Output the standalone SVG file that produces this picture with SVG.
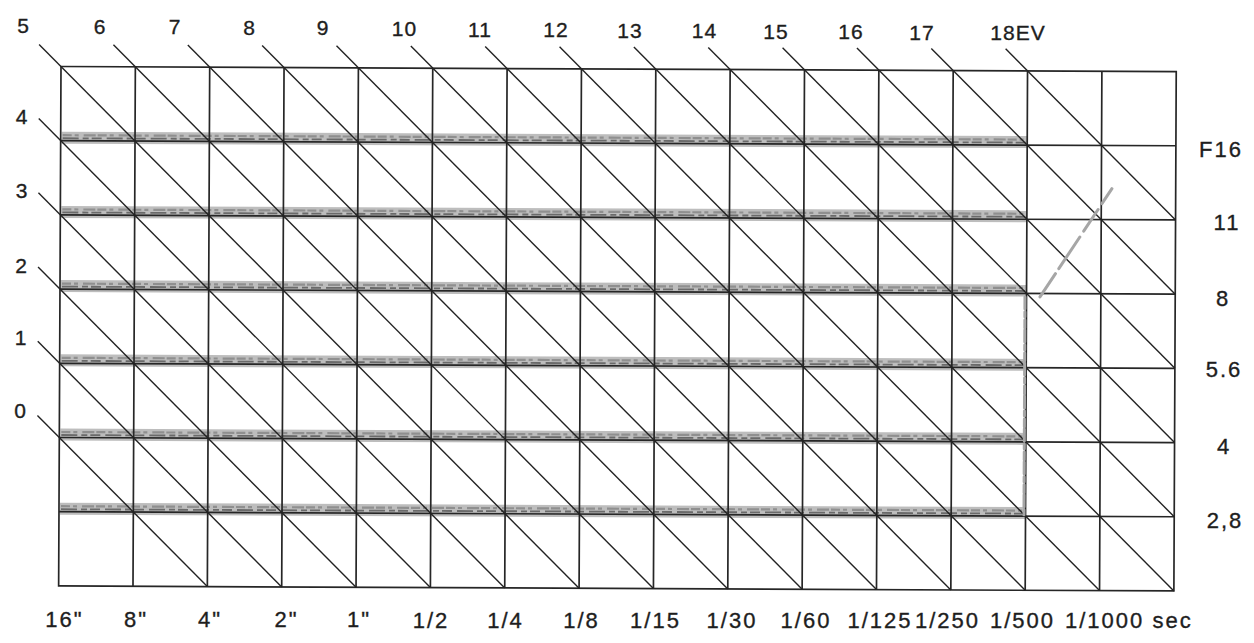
<svg xmlns="http://www.w3.org/2000/svg" width="1254" height="643" viewBox="0 0 1254 643">
<style>
.grid{fill:none;stroke:#262626;stroke-width:1.7}
.diag{fill:none;stroke:#222;stroke-width:1.4}
.band{fill:#bdbdbd}
.bl1{fill:none;stroke:#8f8f8f;stroke-width:2.2;stroke-dasharray:9 3 4 5 12 2}
.bl2{fill:none;stroke:#6a6a6a;stroke-width:1.8;stroke-dasharray:16 4 6 3 10 5}
.lbl{font-family:"Liberation Sans",Arial,Helvetica,sans-serif;font-size:21px;fill:#1e1e1e;stroke:#1e1e1e;stroke-width:0.35;letter-spacing:1px;text-anchor:middle}
.lbl2{font-family:"Liberation Sans",Arial,Helvetica,sans-serif;font-size:22px;fill:#1e1e1e;stroke:#1e1e1e;stroke-width:0.35;letter-spacing:2px;text-anchor:middle}
.faint{fill:none;stroke:#a6a6a6;stroke-width:3;stroke-linecap:round}
</style>
<rect width="1254" height="643" fill="#ffffff"/>
<g id="chart" transform="rotate(0.26 61 66.5) translate(61 66.5)">
  <g id="bands">
    <rect class="band" x="1" y="65.2" width="965.5" height="12"/>
    <rect class="band" x="1" y="139.4" width="965.5" height="12"/>
    <rect class="band" x="1" y="213.6" width="965.5" height="12"/>
    <rect class="band" x="1" y="287.8" width="965.5" height="12"/>
    <rect class="band" x="1" y="362" width="965.5" height="12"/>
    <rect class="band" x="1" y="436.2" width="965.5" height="12"/>
    <path class="bl1" d="M2 68.7H965 M2 142.9H965 M2 217.1H965 M2 291.3H965 M2 365.5H965 M2 439.7H965"/>
    <path class="bl2" d="M2 71.7H965 M2 145.9H965 M2 220.1H965 M2 294.3H965 M2 368.5H965 M2 442.7H965"/>
  </g>
  <g id="grid">
    <rect class="grid" x="0" y="0" width="1115.25" height="519.4"/>
    <path class="grid" d="M74.35 0V519.4 M148.7 0V519.4 M223.05 0V519.4 M297.4 0V519.4 M371.75 0V519.4 M446.1 0V519.4 M520.45 0V519.4 M594.8 0V519.4 M669.15 0V519.4 M743.5 0V519.4 M817.85 0V519.4 M892.2 0V519.4 M966.55 0V519.4 M1040.9 0V519.4"/>
    <path class="grid" d="M0 74.2H1115.25 M0 148.4H1115.25 M0 222.6H1115.25 M0 296.8H1115.25 M0 371H1115.25 M0 445.2H1115.25"/>
  </g>
  <g id="connectors">
    <path class="diag" d="M-22 -22L520.45 519.4"/>
    <path class="diag" d="M52.35 -22L594.8 519.4"/>
    <path class="diag" d="M126.7 -22L669.15 519.4"/>
    <path class="diag" d="M201.05 -22L743.5 519.4"/>
    <path class="diag" d="M275.4 -22L817.85 519.4"/>
    <path class="diag" d="M349.75 -22L892.2 519.4"/>
    <path class="diag" d="M424.1 -22L966.55 519.4"/>
    <path class="diag" d="M498.45 -22L1040.9 519.4"/>
    <path class="diag" d="M572.8 -22L1115.25 519.4"/>
    <path class="diag" d="M647.15 -22L1115.25 445.2"/>
    <path class="diag" d="M721.5 -22L1115.25 371"/>
    <path class="diag" d="M795.85 -22L1115.25 296.8"/>
    <path class="diag" d="M870.2 -22L1115.25 222.6"/>
    <path class="diag" d="M944.55 -22L1115.25 148.4"/>
    <path class="diag" d="M-22 52.2L446.1 519.4"/>
    <path class="diag" d="M-22 126.4L371.75 519.4"/>
    <path class="diag" d="M-22 200.6L297.4 519.4"/>
    <path class="diag" d="M-22 274.8L223.05 519.4"/>
    <path class="diag" d="M-22 349L148.7 519.4"/>
  </g>
  <g id="marks">
    <path class="faint" d="M965 226V444" stroke-dasharray="12 3 5 3 8 2"/>
    <path class="faint" d="M980 226L1057 109" stroke-dasharray="28 6 38 7 26 7 18 200"/>
  </g>
</g>
<g id="top-labels">
  <text class="lbl" x="23.5" y="33">5</text>
  <text class="lbl" x="100" y="33.5">6</text>
  <text class="lbl" x="175" y="34">7</text>
  <text class="lbl" x="249.5" y="34.5">8</text>
  <text class="lbl" x="323" y="35">9</text>
  <text class="lbl" x="404.5" y="35.5">10</text>
  <text class="lbl" x="480" y="36.5">11</text>
  <text class="lbl" x="556" y="37">12</text>
  <text class="lbl" x="630" y="37.5">13</text>
  <text class="lbl" x="704.5" y="38">14</text>
  <text class="lbl" x="776" y="38.5">15</text>
  <text class="lbl" x="851" y="39">16</text>
  <text class="lbl" x="922" y="39.5">17</text>
  <text class="lbl" x="1018" y="40">18EV</text>
</g>
<g id="left-labels">
  <text class="lbl" x="22" y="124">4</text>
  <text class="lbl" x="22" y="197.5">3</text>
  <text class="lbl" x="21.5" y="272.5">2</text>
  <text class="lbl" x="21" y="344.5">1</text>
  <text class="lbl" x="20.5" y="418">0</text>
</g>
<g id="right-labels">
  <text class="lbl2" x="1221" y="157">F16</text>
  <text class="lbl2" x="1227" y="230">11</text>
  <text class="lbl2" x="1223" y="306">8</text>
  <text class="lbl2" x="1224" y="377">5.6</text>
  <text class="lbl2" x="1224" y="454">4</text>
  <text class="lbl2" x="1225" y="528">2,8</text>
</g>
<g id="bottom-labels">
  <text class="lbl2" x="64.5" y="627">16"</text>
  <text class="lbl2" x="136" y="627">8"</text>
  <text class="lbl2" x="210" y="627">4"</text>
  <text class="lbl2" x="286.5" y="627">2"</text>
  <text class="lbl2" x="359" y="627">1"</text>
  <text class="lbl2" x="431" y="628">1/2</text>
  <text class="lbl2" x="505.5" y="628">1/4</text>
  <text class="lbl2" x="581.5" y="628">1/8</text>
  <text class="lbl2" x="655.5" y="628">1/15</text>
  <text class="lbl2" x="732" y="628">1/30</text>
  <text class="lbl2" x="806" y="628">1/60</text>
  <text class="lbl2" x="880" y="628">1/125</text>
  <text class="lbl2" x="947.5" y="628">1/250</text>
  <text class="lbl2" x="1022.5" y="628">1/500</text>
  <text class="lbl2" x="1065" y="628" style="text-anchor:start">1/1000 sec</text>
</g>
</svg>
